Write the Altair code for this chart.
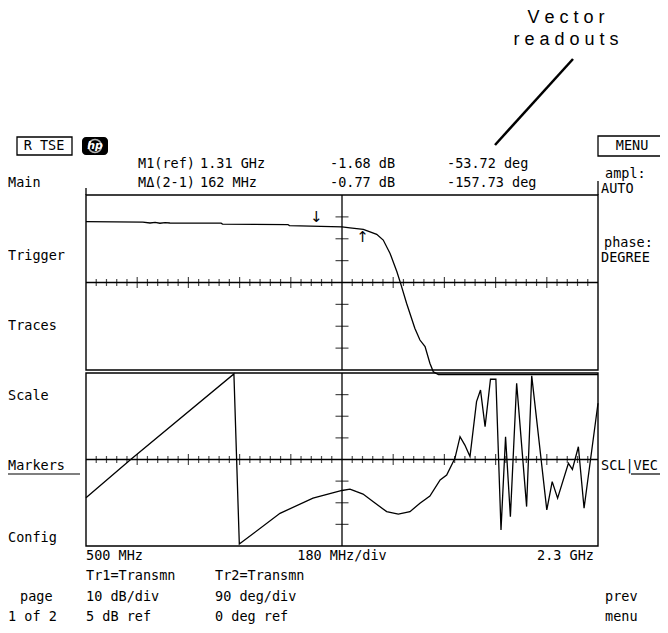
import altair as alt
import pandas as pd

# Trace 1: magnitude (dB), frequency in MHz
mag_freq = [500, 700, 725, 743, 760, 778, 795, 975, 980, 1210, 1215, 1400, 1428, 1475,
            1522, 1545, 1569, 1593, 1606, 1627, 1656, 1674, 1692, 1709, 1721, 1739, 2300]
mag_db = [32.8, 32.6, 32.2, 32.5, 32.1, 32.4, 32.2, 32.1, 31.7, 31.5, 31.0, 30.4, 30.0, 29.3,
          27.0, 24.4, 18.3, 9.9, 4.6, -4.5, -15.9, -21.3, -24.3, -31.9, -35.8, -37.1, -37.1]

# Trace 2: phase (deg)
phase_freq = [500, 655, 1020, 1039, 1182, 1298, 1400, 1428, 1451, 1474, 1510, 1557, 1598, 1639,
              1674, 1709, 1745, 1768, 1797, 1815, 1832, 1850, 1873, 1887, 1903, 1922, 1941, 1959,
              1975, 1992, 2014, 2049, 2067, 2120, 2139, 2158, 2196, 2210, 2231, 2251, 2300]
phase_deg = [-159, -2, 356, -352, -224, -161, -129, -123, -134, -144, -176, -217, -227, -217,
             -182, -152, -85, -65, 5, 95, 60, 12, 241, 289, 137, 334, 334, -293,
             95, -238, 317, -196, 348, -210, -92, -161, -16, -41, 53, -203, 234]

# Markers
marker_freq = [1310, 1472]
marker_db = [30.7, 29.3]

# Grid settings
F_START, F_STOP, F_CENTER = 500, 2300, 1400
MAG_REF = 5
MAG_TICKS = [-25, -15, -5, 15, 25, 35]
PHASE_TICKS = [-270, -180, -90, 90, 180, 270]
MAJOR_F = [680, 860, 1040, 1220, 1580, 1760, 1940, 2120]
MINOR_F = [f for f in range(536, 2300, 36) if (f - 500) % 180 != 0]

OFF = 8  # page margin

X = alt.Scale(domain=[F_START, F_STOP], range=[86 - OFF, 598 - OFF], nice=False, zero=False)
YT = alt.Scale(domain=[-35, 45], range=[370 - OFF, 195 - OFF], nice=False, zero=False)
YB = alt.Scale(domain=[-360, 360], range=[546 - OFF, 373 - OFF], nice=False, zero=False)

LW = 1.3


def xf(field):
    return alt.X(field, type="quantitative", scale=X, axis=None)


def yf(field, sc):
    return alt.Y(field, type="quantitative", scale=sc, axis=None)


layers = []

# ---- panels ----
for sc, lo, hi, center, ticks in [(YT, -35, 45, MAG_REF, MAG_TICKS), (YB, -360, 360, 0, PHASE_TICKS)]:
    frame = pd.DataFrame({"f0": [F_START], "f1": [F_STOP], "v0": [lo], "v1": [hi],
                          "c": [center], "fc": [F_CENTER]})
    layers.append(alt.Chart(frame).mark_rect(fill="transparent", stroke="black", strokeWidth=1.4).encode(
        x=xf("f0"), x2="f1", y=yf("v0", sc), y2="v1"))
    layers.append(alt.Chart(frame).mark_rule(color="black", strokeWidth=LW).encode(
        x=xf("f0"), x2="f1", y=yf("c", sc)))
    layers.append(alt.Chart(frame).mark_rule(color="black", strokeWidth=LW).encode(
        x=xf("fc"), y=yf("v0", sc), y2="v1"))
    minor = pd.DataFrame({"f": MINOR_F, "c": [center] * len(MINOR_F)})
    major = pd.DataFrame({"f": MAJOR_F, "c": [center] * len(MAJOR_F)})
    vt = pd.DataFrame({"f": [F_CENTER] * len(ticks), "v": ticks})
    layers.append(alt.Chart(minor).mark_tick(orient="vertical", size=7, thickness=1.2, color="black").encode(
        x=xf("f"), y=yf("c", sc)))
    layers.append(alt.Chart(major).mark_tick(orient="vertical", size=11, thickness=1.2, color="black").encode(
        x=xf("f"), y=yf("c", sc)))
    layers.append(alt.Chart(vt).mark_tick(orient="horizontal", size=13, thickness=1.2, color="black").encode(
        x=xf("f"), y=yf("v", sc)))

# ---- traces ----
mag = pd.DataFrame({"f": mag_freq, "v": mag_db, "i": range(len(mag_freq))})
ph = pd.DataFrame({"f": phase_freq, "v": phase_deg, "i": range(len(phase_freq))})
layers.append(alt.Chart(mag).mark_line(color="black", strokeWidth=LW).encode(
    x=xf("f"), y=yf("v", YT), order="i:Q"))
layers.append(alt.Chart(ph).mark_line(color="black", strokeWidth=LW).encode(
    x=xf("f"), y=yf("v", YB), order="i:Q"))

# ---- markers ----
m1 = pd.DataFrame({"f": marker_freq[:1], "v": marker_db[:1], "t": ["↓"]})
m2 = pd.DataFrame({"f": marker_freq[1:], "v": marker_db[1:], "t": ["↑"]})
layers.append(alt.Chart(m1).mark_text(baseline="bottom", dy=-1, font="DejaVu Sans", fontSize=15).encode(
    x=xf("f"), y=yf("v", YT), text="t:N"))
layers.append(alt.Chart(m2).mark_text(baseline="top", dy=1, font="DejaVu Sans", fontSize=15).encode(
    x=xf("f"), y=yf("v", YT), text="t:N"))

# ---- screen text (page coordinates) ----
left_txt = [
    ("Main", 8, 183), ("Trigger", 8, 256), ("Traces", 8, 326), ("Scale", 8, 396),
    ("Markers", 8, 466), ("Config", 8, 538), ("page", 20, 597), ("1 of 2", 8, 617),
    ("M1(ref)", 138, 164), ("1.31 GHz", 200, 164), ("-1.68 dB", 330, 164), ("-53.72 deg", 447, 164),
    ("MΔ(2-1)", 138, 183), ("162 MHz", 200, 183), ("-0.77 dB", 330, 183), ("-157.73 deg", 447, 183),
    ("ampl:", 605, 174), ("AUTO", 601, 189), ("phase:", 604, 243), ("DEGREE", 601, 258),
    ("SCL|VEC", 601, 466),
    ("500 MHz", 86, 556), ("Tr1=Transmn", 86, 576), ("Tr2=Transmn", 215, 576),
    ("10 dB/div", 86, 597), ("90 deg/div", 215, 597), ("5 dB ref", 86, 617), ("0 deg ref", 215, 617),
    ("prev", 605, 597), ("menu", 605, 617),
]
center_txt = [("R TSE", 44, 146), ("MENU", 632, 146), ("180 MHz/div", 342, 556)]
right_txt = [("2.3 GHz", 594, 556)]


def tdf(rows):
    return pd.DataFrame({"t": [r[0] for r in rows], "x": [r[1] - OFF for r in rows],
                         "y": [r[2] - OFF for r in rows]})


def txt(rows, align, font="DejaVu Sans Mono", size=13.5, color="black", **kw):
    return alt.Chart(tdf(rows)).mark_text(align=align, baseline="middle", font=font, fontSize=size,
                                          color=color, **kw).encode(
        x=alt.X("x:Q", scale=None, axis=None), y=alt.Y("y:Q", scale=None, axis=None), text="t:N")


layers.append(txt(left_txt, "left"))
layers.append(txt(center_txt, "center"))
layers.append(txt(right_txt, "right"))

# annotation
layers.append(txt([("V e c t o r", 566, 18), ("r e a d o u t s", 566, 40)], "center",
                  font="Liberation Sans", size=18))

# decorations: boxes, logo, underlines, bars, annotation pointer
boxes = pd.DataFrame({"x": [17 - OFF, 598 - OFF], "x2": [72 - OFF, 666 - OFF],
                      "y": [137 - OFF, 136 - OFF], "y2": [155 - OFF, 156 - OFF]})
layers.append(alt.Chart(boxes).mark_rect(fill="transparent", stroke="black", strokeWidth=1.3).encode(
    x=alt.X("x:Q", scale=None, axis=None), x2="x2:Q",
    y=alt.Y("y:Q", scale=None, axis=None), y2="y2:Q"))
logo = pd.DataFrame({"x": [82 - OFF], "x2": [108 - OFF], "y": [137 - OFF], "y2": [155 - OFF]})
layers.append(alt.Chart(logo).mark_rect(fill="black", cornerRadius=4).encode(
    x=alt.X("x:Q", scale=None, axis=None), x2="x2:Q",
    y=alt.Y("y:Q", scale=None, axis=None), y2="y2:Q"))
layers.append(alt.Chart(pd.DataFrame({"x": [95 - OFF], "y": [146 - OFF]})).mark_point(
    shape="circle", size=170, stroke="white", strokeWidth=1.5, filled=False).encode(
    x=alt.X("x:Q", scale=None, axis=None), y=alt.Y("y:Q", scale=None, axis=None)))
layers.append(txt([("hp", 95, 146)], "center", font="DejaVu Sans", size=11, color="white",
                  fontStyle="italic", fontWeight="bold"))

segs = pd.DataFrame({
    "x": [8, 631, 86, 598, 573],
    "x2": [80, 660, 86, 598, 495],
    "y": [474, 474, 188, 181, 59],
    "y2": [474, 474, 195, 195, 145],
    "w": [1.2, 1.2, 1.3, 1.3, 2.5],
})
for c in ["x", "x2", "y", "y2"]:
    segs[c] = segs[c] - OFF
layers.append(alt.Chart(segs).mark_rule(color="black").encode(
    x=alt.X("x:Q", scale=None, axis=None), x2="x2:Q",
    y=alt.Y("y:Q", scale=None, axis=None), y2="y2:Q",
    strokeWidth=alt.StrokeWidth("w:Q", scale=None, legend=None)))

chart = alt.layer(*layers).resolve_scale(x="independent", y="independent").properties(
    width=668 - 2 * OFF, height=633 - 2 * OFF, padding=0,
    autosize=alt.AutoSizeParams(type="none"),
    background="white",
).configure_view(stroke=None)

chart.save("out.html", embed_options={"renderer": "svg", "actions": False})
